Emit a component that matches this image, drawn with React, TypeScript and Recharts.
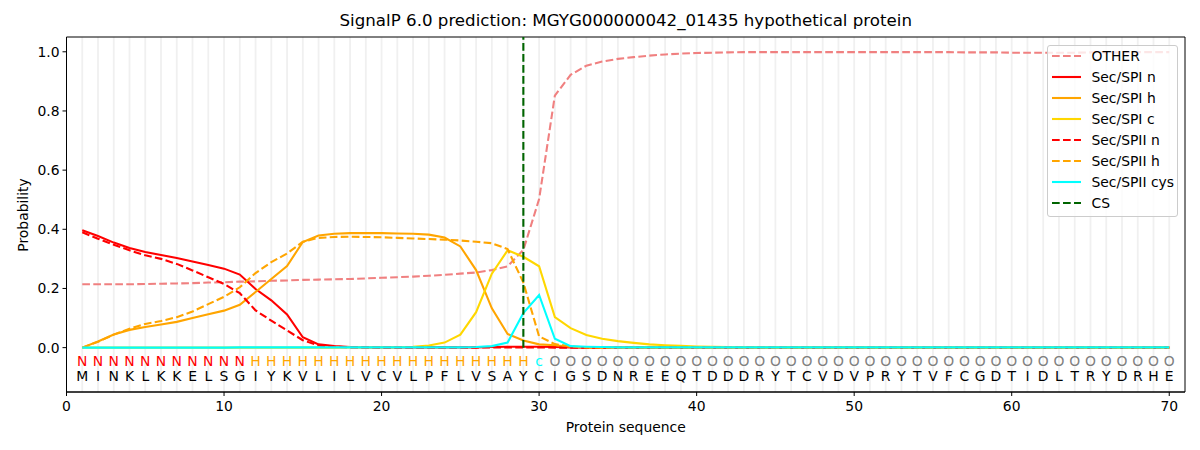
import React from 'react';
import {
  LineChart,
  Line,
  XAxis,
  YAxis,
  CartesianGrid,
  ReferenceLine,
  ReferenceArea,
} from 'recharts';

const title = 'SignalP 6.0 prediction: MGYG000000042_01435 hypothetical protein';

// sequence and predicted region per residue
const residues = 'MINKLKKELSGIYKVLILVCVLPFLVSAYCIGSDNREEQTDDDRYTCVDVPRYTVFCGDTIDLTRYDRHE'.split('');
const regionLabels = (
  'NNNNNNNNNNN' +
  'HHHHHHHHHHHHHHHHHH' +
  'c' +
  'OOOOOOOOOOOOOOOOOOOOOOOOOOOOOOOOOOOOOOOO'
).split('');
const positions = residues.map((_, i) => i + 1);
const cleavageSite = 29;

const xTicks = [0, 10, 20, 30, 40, 50, 60, 70];
const yTicks = [0, 0.2, 0.4, 0.6, 0.8, 1.0];

const other = [
  0.214, 0.214, 0.214, 0.214, 0.215, 0.216, 0.217, 0.218, 0.220, 0.221,
  0.223, 0.224, 0.226, 0.227, 0.229, 0.230, 0.231, 0.232, 0.234, 0.236,
  0.238, 0.240, 0.243, 0.246, 0.250, 0.254, 0.262, 0.275, 0.330, 0.502,
  0.852, 0.922, 0.953, 0.967, 0.976, 0.982, 0.987, 0.991, 0.994, 0.996,
  0.997, 0.998, 0.999, 0.999, 0.999, 0.999, 0.999, 0.999, 0.999, 0.999,
  0.999, 0.999, 0.999, 0.999, 0.999, 0.999, 0.998, 0.998, 0.998, 0.997,
  0.997, 0.997, 0.997, 0.997, 0.998, 0.998, 0.998, 0.999, 0.999, 0.999,
];
const spiN = [
  0.397, 0.377, 0.355, 0.337, 0.323, 0.313, 0.303, 0.291, 0.279, 0.267,
  0.247, 0.198, 0.160, 0.112, 0.035, 0.011, 0.005, 0.002, 0.001, 0.001,
  0.001, 0.001, 0.001, 0.001, 0.001, 0.001, 0.002, 0.003, 0.003, 0.003,
  0.002, 0.001, 0, 0, 0, 0, 0, 0, 0, 0,
  0, 0, 0, 0, 0, 0, 0, 0, 0, 0,
  0, 0, 0, 0, 0, 0, 0, 0, 0, 0,
  0, 0, 0, 0, 0, 0, 0, 0, 0, 0,
];
const spiH = [
  0.000, 0.021, 0.044, 0.060, 0.070, 0.078, 0.087, 0.100, 0.113, 0.125,
  0.145, 0.188, 0.232, 0.276, 0.357, 0.379, 0.385, 0.387, 0.387, 0.387,
  0.386, 0.385, 0.382, 0.372, 0.342, 0.262, 0.133, 0.046, 0.024, 0.011,
  0.008, 0.003, 0.001, 0, 0, 0, 0, 0, 0, 0,
  0, 0, 0, 0, 0, 0, 0, 0, 0, 0,
  0, 0, 0, 0, 0, 0, 0, 0, 0, 0,
  0, 0, 0, 0, 0, 0, 0, 0, 0, 0,
];
const spiC = [
  0, 0, 0, 0, 0, 0, 0, 0, 0, 0,
  0, 0, 0, 0, 0, 0, 0, 0.001, 0.001, 0.001,
  0.001, 0.003, 0.007, 0.017, 0.044, 0.120, 0.250, 0.329, 0.307, 0.275,
  0.103, 0.066, 0.043, 0.030, 0.022, 0.016, 0.011, 0.008, 0.006, 0.004,
  0.003, 0.002, 0.002, 0.001, 0.001, 0.001, 0.001, 0.001, 0.001, 0.001,
  0, 0, 0, 0, 0, 0, 0, 0, 0, 0,
  0, 0, 0, 0, 0, 0, 0, 0, 0, 0,
];
const spiiN = [
  0.390, 0.368, 0.348, 0.329, 0.312, 0.300, 0.283, 0.261, 0.238, 0.215,
  0.184, 0.126, 0.091, 0.058, 0.025, 0.007, 0.003, 0.001, 0.001, 0,
  0, 0, 0, 0, 0, 0, 0.001, 0.001, 0.001, 0.001,
  0, 0, 0, 0, 0, 0, 0, 0, 0, 0,
  0, 0, 0, 0, 0, 0, 0, 0, 0, 0,
  0, 0, 0, 0, 0, 0, 0, 0, 0, 0,
  0, 0, 0, 0, 0, 0, 0, 0, 0, 0,
];
const spiiH = [
  0.000, 0.020, 0.044, 0.064, 0.080, 0.090, 0.103, 0.122, 0.147, 0.172,
  0.204, 0.252, 0.289, 0.318, 0.358, 0.371, 0.374, 0.375, 0.374, 0.373,
  0.371, 0.369, 0.367, 0.365, 0.362, 0.358, 0.353, 0.333, 0.220, 0.038,
  0.012, 0.004, 0.001, 0, 0, 0, 0, 0, 0, 0,
  0, 0, 0, 0, 0, 0, 0, 0, 0, 0,
  0, 0, 0, 0, 0, 0, 0, 0, 0, 0,
  0, 0, 0, 0, 0, 0, 0, 0, 0, 0,
];
const spiiCys = [
  0, 0, 0, 0, 0, 0, 0, 0, 0, 0,
  0.001, 0.001, 0.001, 0.001, 0.001, 0.001, 0.001, 0.001, 0.001, 0.001,
  0.001, 0.001, 0.001, 0.001, 0.001, 0.002, 0.005, 0.017, 0.117, 0.178,
  0.030, 0.005, 0.003, 0.002, 0.001, 0.001, 0.001, 0.001, 0.001, 0.001,
  0.001, 0.001, 0.001, 0.001, 0.001, 0.001, 0.001, 0.001, 0.001, 0.001,
  0.001, 0.001, 0.001, 0.001, 0.001, 0.001, 0.001, 0.001, 0.001, 0.001,
  0.001, 0.001, 0.001, 0.001, 0.001, 0.001, 0.001, 0.001, 0.001, 0.001,
];

const DASH = '7.7 3.3';
const LW = 2.1;
const FONT = '"DejaVu Sans", sans-serif';

const series = [
  { key: 'other', name: 'OTHER', color: '#f08080', dashed: true, values: other },
  { key: 'spiN', name: 'Sec/SPI n', color: '#ff0000', dashed: false, values: spiN },
  { key: 'spiH', name: 'Sec/SPI h', color: '#ffa500', dashed: false, values: spiH },
  { key: 'spiC', name: 'Sec/SPI c', color: '#ffd700', dashed: false, values: spiC },
  { key: 'spiiN', name: 'Sec/SPII n', color: '#ff0000', dashed: true, values: spiiN },
  { key: 'spiiH', name: 'Sec/SPII h', color: '#ffa500', dashed: true, values: spiiH },
  { key: 'spiiCys', name: 'Sec/SPII cys', color: '#00ffff', dashed: false, values: spiiCys },
];

const labelColors: Record<string, string> = {
  N: '#ff0000',
  H: '#ffa500',
  c: '#00ffff',
  O: '#808080',
};

// rows where the region letters and residues sit, in data units
const labelRow = -0.05;
const residueRow = -0.1;
const yDomain = [-0.15, 1.05];

const data = positions.map((pos, i) => {
  const row: Record<string, any> = {
    pos,
    label: regionLabels[i],
    residue: residues[i],
    labelRow,
    residueRow,
  };
  series.forEach((s) => {
    row[s.key] = s.values[i];
  });
  return row;
});

const legendItems = [
  ...series.map((s) => ({ name: s.name, color: s.color, dashed: s.dashed })),
  { name: 'CS', color: '#006400', dashed: true },
];

export default function App() {
  return (
    <div
      style={{
        position: 'fixed',
        left: 0,
        top: 0,
        width: 1200,
        height: 450,
        background: '#fff',
        fontFamily: FONT,
      }}
    >
      <LineChart
        width={1200}
        height={450}
        data={data}
        margin={{ top: 37, right: 15, bottom: 28, left: 0 }}
        style={{ fontFamily: FONT }}
      >
        <CartesianGrid
          horizontal={false}
          verticalValues={positions}
          stroke="#f0f0f0"
          strokeWidth={1.8}
        />
        <XAxis
          dataKey="pos"
          type="number"
          domain={[0, 71]}
          ticks={xTicks}
          interval={0}
          allowDataOverflow
          height={30}
          tickSize={4}
          tickMargin={5}
          tick={{ fill: '#000', fontSize: 13.9 }}
          tickLine={{ stroke: '#000' }}
          axisLine={{ stroke: '#000' }}
        />
        <YAxis
          type="number"
          domain={yDomain}
          ticks={yTicks}
          interval={0}
          allowDataOverflow
          width={66.5}
          tickSize={4}
          tickMargin={3}
          tickFormatter={(v) => v.toFixed(1)}
          tick={{ fill: '#000', fontSize: 13.9 }}
          tickLine={{ stroke: '#000' }}
          axisLine={{ stroke: '#000' }}
        />
        {series.map((s) => (
          <Line
            key={s.key}
            dataKey={s.key}
            name={s.name}
            type="linear"
            stroke={s.color}
            strokeWidth={LW}
            strokeDasharray={s.dashed ? DASH : undefined}
            dot={false}
            activeDot={false}
            isAnimationActive={false}
          />
        ))}
        <ReferenceLine
          segment={[
            { x: cleavageSite, y: 0 },
            { x: cleavageSite, y: yDomain[1] },
          ]}
          stroke="#006400"
          strokeWidth={LW}
          strokeDasharray={DASH}
        />
        <Line
          dataKey="labelRow"
          stroke="none"
          activeDot={false}
          isAnimationActive={false}
          dot={(p: any) => (
            <text
              key={`lab-${p.index}`}
              x={p.cx}
              y={p.cy + 3.7}
              textAnchor="middle"
              fontSize={13.9}
              fontFamily={FONT}
              fill={labelColors[p.payload.label]}
            >
              {p.payload.label}
            </text>
          )}
        />
        <Line
          dataKey="residueRow"
          stroke="none"
          activeDot={false}
          isAnimationActive={false}
          dot={(p: any) => (
            <text
              key={`res-${p.index}`}
              x={p.cx}
              y={p.cy + 3.7}
              textAnchor="middle"
              fontSize={13.9}
              fontFamily={FONT}
              fill="#000"
            >
              {p.payload.residue}
            </text>
          )}
        />
        <ReferenceArea
          x1={0}
          x2={71}
          y1={yDomain[0]}
          y2={yDomain[1]}
          fill="none"
          stroke="#000"
          strokeWidth={1}
          ifOverflow="visible"
        />
      </LineChart>

      <div
        style={{
          position: 'absolute',
          left: 66.5,
          width: 1118.5,
          top: 11,
          lineHeight: '20px',
          fontSize: 16.67,
          textAlign: 'center',
          color: '#000',
          whiteSpace: 'nowrap',
        }}
      >
        {title}
      </div>
      <div
        style={{
          position: 'absolute',
          left: 66.5,
          width: 1118.5,
          top: 419,
          lineHeight: '16px',
          fontSize: 13.9,
          textAlign: 'center',
          color: '#000',
        }}
      >
        Protein sequence
      </div>
      <div
        style={{
          position: 'absolute',
          left: 23,
          top: 214.5,
          lineHeight: '16px',
          fontSize: 13.9,
          color: '#000',
          whiteSpace: 'nowrap',
          transform: 'translate(-50%, -50%) rotate(-90deg)',
        }}
      >
        Probability
      </div>

      <div
        style={{
          position: 'absolute',
          left: 1046.5,
          top: 44.5,
          width: 131,
          height: 172,
          boxSizing: 'border-box',
          border: '1px solid #cccccc',
          borderRadius: 3,
          background: 'rgba(255,255,255,0.8)',
          fontSize: 13.9,
          color: '#000',
        }}
      >
        {legendItems.map((item) => (
          <div
            key={item.name}
            style={{ height: 21.05, display: 'flex', alignItems: 'center', whiteSpace: 'nowrap' }}
          >
            <svg width={29} height={6} style={{ marginLeft: 4, marginRight: 11 }}>
              <line
                x1={0}
                x2={29}
                y1={3}
                y2={3}
                stroke={item.color}
                strokeWidth={LW}
                strokeDasharray={item.dashed ? DASH : undefined}
              />
            </svg>
            <span>{item.name}</span>
          </div>
        ))}
      </div>
    </div>
  );
}
